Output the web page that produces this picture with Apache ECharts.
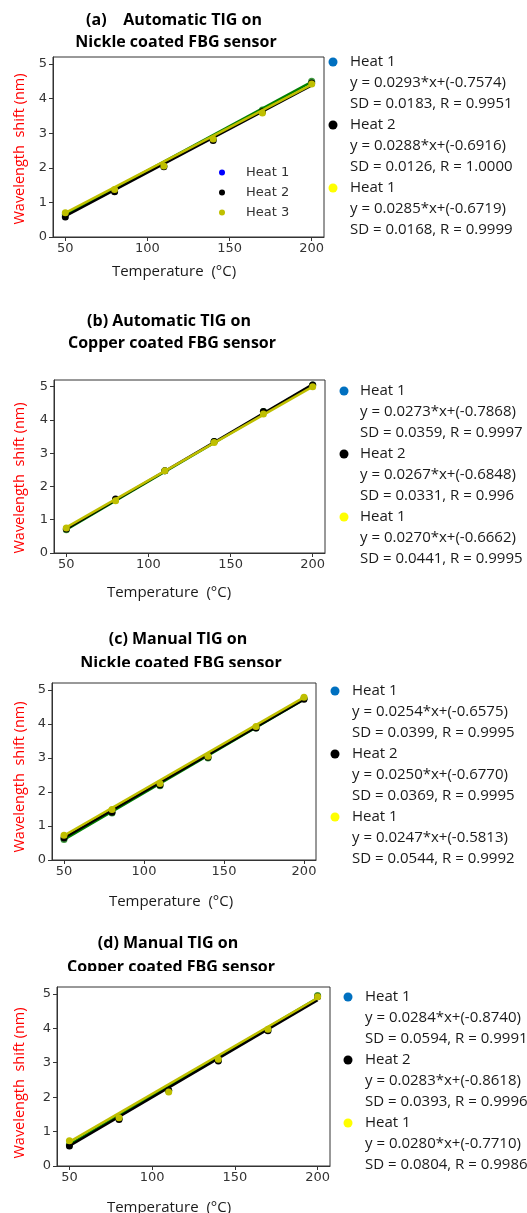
<!DOCTYPE html>
<html>
<head>
<meta charset="utf-8">
<script src="https://cdn.jsdelivr.net/npm/echarts@6/dist/echarts.min.js"></script>
<style>
html,body{margin:0;padding:0;background:#fff;}
#chart{width:527px;height:1213px;}
</style>
</head>
<body>
<div id="chart"></div>
<script>
// ---- data ----
const xTemps = [50, 80, 110, 140, 170, 200];
const fitX = [50, 200];
const xTickLabels = [50, 100, 150, 200];
const yTickLabels = [0, 1, 2, 3, 4, 5];
const seriesNames = ['Heat 1', 'Heat 2', 'Heat 3'];

const aHeat1 = [0.65, 1.33, 2.05, 2.82, 3.67, 4.50];
const aHeat2 = [0.58, 1.31, 2.03, 2.79, 3.62, 4.45];
const aHeat3 = [0.70, 1.37, 2.05, 2.83, 3.58, 4.42];
const aFit1 = [0.64, 4.48];
const aFit2 = [0.60, 4.38];
const aFit3 = [0.70, 4.40];

const bHeat1 = [0.70, 1.60, 2.47, 3.35, 4.25, 5.05];
const bHeat2 = [0.72, 1.62, 2.47, 3.35, 4.25, 5.05];
const bHeat3 = [0.75, 1.57, 2.47, 3.32, 4.18, 5.00];
const bFit1 = [0.70, 5.05];
const bFit2 = [0.72, 5.07];
const bFit3 = [0.77, 5.00];

const cHeat1 = [0.60, 1.38, 2.18, 3.00, 3.88, 4.75];
const cHeat2 = [0.65, 1.40, 2.20, 3.02, 3.88, 4.72];
const cHeat3 = [0.73, 1.48, 2.25, 3.05, 3.92, 4.78];
const cFit1 = [0.60, 4.72];
const cFit2 = [0.65, 4.72];
const cFit3 = [0.72, 4.78];

const dHeat1 = [0.62, 1.38, 2.18, 3.08, 3.95, 4.95];
const dHeat2 = [0.58, 1.35, 2.20, 3.05, 3.93, 4.92];
const dHeat3 = [0.73, 1.40, 2.15, 3.10, 3.97, 4.92];
const dFit1 = [0.62, 4.88];
const dFit2 = [0.58, 4.82];
const dFit3 = [0.70, 4.88];

const titlesA = ['(a)    Automatic TIG on', 'Nickle coated FBG sensor'];
const titlesB = ['(b) Automatic TIG on', 'Copper coated FBG sensor'];
const titlesC = ['(c) Manual TIG on', 'Nickle coated FBG sensor'];
const titlesD = ['(d) Manual TIG on', 'Copper coated FBG sensor'];

const notesA = ['Heat 1', 'y = 0.0293*x+(-0.7574)', 'SD = 0.0183, R = 0.9951',
                'Heat 2', 'y = 0.0288*x+(-0.6916)', 'SD = 0.0126, R = 1.0000',
                'Heat 1', 'y = 0.0285*x+(-0.6719)', 'SD = 0.0168, R = 0.9999'];
const notesB = ['Heat 1', 'y = 0.0273*x+(-0.7868)', 'SD = 0.0359, R = 0.9997',
                'Heat 2', 'y = 0.0267*x+(-0.6848)', 'SD = 0.0331, R = 0.996',
                'Heat 1', 'y = 0.0270*x+(-0.6662)', 'SD = 0.0441, R = 0.9995'];
const notesC = ['Heat 1', 'y = 0.0254*x+(-0.6575)', 'SD = 0.0399, R = 0.9995',
                'Heat 2', 'y = 0.0250*x+(-0.6770)', 'SD = 0.0369, R = 0.9995',
                'Heat 1', 'y = 0.0247*x+(-0.5813)', 'SD = 0.0544, R = 0.9992'];
const notesD = ['Heat 1', 'y = 0.0284*x+(-0.8740)', 'SD = 0.0594, R = 0.9991',
                'Heat 2', 'y = 0.0283*x+(-0.8618)', 'SD = 0.0393, R = 0.9996',
                'Heat 1', 'y = 0.0280*x+(-0.7710)', 'SD = 0.0804, R = 0.9986'];

const xTitle = 'Temperature  (°C)';
const yTitle = 'Wavelength  shift (nm)';

// ---- layout / style ----
const pointColors = ['#3f9a3f', '#000000', '#bfbf00'];
const legendColors = ['#0000ff', '#000000', '#bfbf00'];
const lineColors = ['#008000', '#000000', '#bfbf00'];
const noteDotColors = ['#0070C0', '#000000', '#FFFF00'];

const panels = [
  {grid: {left: 53, top: 57, width: 271, height: 180}, heats: [aHeat1, aHeat2, aHeat3], fits: [aFit1, aFit2, aFit3],
   titles: titlesA, titleX: [174, 176], titleY: [20, 42],
   xTitlePos: [174, 272], yTitlePos: [20, 149],
   notes: notesA, noteDotX: 333, noteTextX: 350, noteY0: 62},
  {grid: {left: 54, top: 380, width: 271, height: 173}, heats: [bHeat1, bHeat2, bHeat3], fits: [bFit1, bFit2, bFit3],
   titles: titlesB, titleX: [169, 172], titleY: [321, 343],
   xTitlePos: [169, 593], yTitlePos: [20, 478],
   notes: notesB, noteDotX: 344, noteTextX: 360, noteY0: 391},
  {grid: {left: 52, top: 683, width: 264, height: 177}, heats: [cHeat1, cHeat2, cHeat3], fits: [cFit1, cFit2, cFit3],
   titles: titlesC, titleX: [178, 181], titleY: [639, 663],
   xTitlePos: [171, 902], yTitlePos: [20, 777],
   notes: notesC, noteDotX: 335, noteTextX: 352, noteY0: 691},
  {grid: {left: 57, top: 987, width: 273, height: 179}, heats: [dHeat1, dHeat2, dHeat3], fits: [dFit1, dFit2, dFit3],
   titles: titlesD, titleX: [168, 171], titleY: [943, 967],
   xTitlePos: [169, 1208], yTitlePos: [20, 1083],
   notes: notesD, noteDotX: 348, noteTextX: 365, noteY0: 997}
];

const tickFont = {fontFamily: 'DejaVu Sans', fontSize: 13, color: '#333'};
const grids = [], xAxes = [], yAxes = [], series = [], graphics = [];

panels.forEach((p, i) => {
  grids.push(Object.assign({show: true, borderColor: '#333', borderWidth: 1, backgroundColor: '#fff'}, p.grid));
  xAxes.push({
    type: 'value', gridIndex: i, min: 42.5, max: 207.5,
    axisLine: {show: true, lineStyle: {color: '#333', width: 1}},
    axisTick: {show: true, length: 4, customValues: xTickLabels, lineStyle: {color: '#333'}},
    axisLabel: Object.assign({margin: 5, customValues: xTickLabels}, tickFont),
    splitLine: {show: false}
  });
  yAxes.push({
    type: 'value', gridIndex: i, min: 0, max: 5.2,
    axisLine: {show: true, lineStyle: {color: '#333', width: 1}},
    axisTick: {show: true, length: 4, customValues: yTickLabels, lineStyle: {color: '#333'}},
    axisLabel: Object.assign({margin: 6, customValues: yTickLabels}, tickFont),
    splitLine: {show: false}
  });
  for (let k = 0; k < 3; k++) {
    series.push({
      type: 'scatter', name: seriesNames[k], xAxisIndex: i, yAxisIndex: i,
      symbolSize: 7, itemStyle: {color: pointColors[k], opacity: 1},
      data: xTemps.map((x, j) => [x, p.heats[k][j]]), z: 3 + k * 2
    });
    series.push({
      type: 'line', name: 'fit ' + (k + 1) + '-' + i, xAxisIndex: i, yAxisIndex: i,
      symbol: 'none', lineStyle: {color: lineColors[k], width: 2.5}, itemStyle: {color: lineColors[k]},
      data: fitX.map((x, j) => [x, p.fits[k][j]]), z: 4 + k * 2, silent: true
    });
  }
  // titles
  p.titles.forEach((t, j) => {
    graphics.push({type: 'text', x: p.titleX[j], y: p.titleY[j], z: 10,
      style: {text: t, fontFamily: 'Open Sans', fontWeight: 'bold', fontSize: 16, fill: '#000',
              textAlign: 'center', textVerticalAlign: 'middle'}});
  });
  graphics.push({type: 'text', x: p.xTitlePos[0], y: p.xTitlePos[1], z: 10,
    style: {text: xTitle, fontFamily: 'Open Sans', fontSize: 15, fill: '#1a1a1a',
            textAlign: 'center', textVerticalAlign: 'middle'}});
  graphics.push({type: 'text', x: p.yTitlePos[0], y: p.yTitlePos[1], rotation: Math.PI / 2, z: 10,
    style: {text: yTitle, fontFamily: 'Open Sans', fontSize: 14.5, fill: '#ff0000',
            textAlign: 'center', textVerticalAlign: 'middle'}});
  p.notes.forEach((t, j) => {
    const y = p.noteY0 + j * 21;
    if (j % 3 === 0) {
      graphics.push({type: 'circle', shape: {cx: p.noteDotX, cy: y, r: 4.5}, z: 10,
        style: {fill: noteDotColors[j / 3]}});
    }
    graphics.push({type: 'text', x: p.noteTextX, y: y, z: 10,
      style: {text: t, fontFamily: 'Open Sans', fontSize: 15, fill: '#1a1a1a',
              textAlign: 'left', textVerticalAlign: 'middle'}});
  });
});
// the second title line of panels (c) and (d) is cut off in the source figure
graphics.push({type: 'rect', shape: {x: 60, y: 667, width: 260, height: 14}, z: 20, style: {fill: '#fff'}});
graphics.push({type: 'rect', shape: {x: 60, y: 971, width: 260, height: 14}, z: 20, style: {fill: '#fff'}});

const option = {
  animation: false,
  backgroundColor: '#fff',
  grid: grids, xAxis: xAxes, yAxis: yAxes, series: series,
  legend: {
    data: seriesNames.map((n, k) => ({name: n, itemStyle: {color: legendColors[k]}})),
    orient: 'vertical', left: 219, top: 166, padding: 0,
    itemWidth: 38, itemHeight: 6, itemGap: 7, icon: 'circle',
    textStyle: {fontFamily: 'DejaVu Sans', fontSize: 13, color: '#333'},
    selectedMode: false
  },
  graphic: graphics
};
echarts.init(document.getElementById('chart')).setOption(option);
</script>
</body>
</html>
